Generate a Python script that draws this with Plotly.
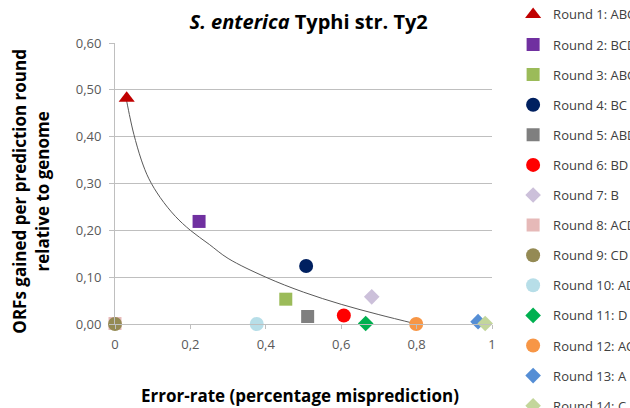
import plotly.graph_objects as go

# Data
round_names = ["Round 1: ABCD", "Round 2: BCD", "Round 3: ABC", "Round 4: BC", "Round 5: ABD",
               "Round 6: BD", "Round 7: B", "Round 8: ACD", "Round 9: CD", "Round 10: AD",
               "Round 11: D", "Round 12: AC", "Round 13: A", "Round 14: C"]
error_rate = [0.031, 0.223, 0.453, 0.507, 0.511, 0.607, 0.681, 0.0, 0.0, 0.376, 0.665, 0.799, 0.963, 0.982]
orfs_gained = [0.482, 0.219, 0.053, 0.124, 0.016, 0.018, 0.058, 0.001, 0.0, 0.0, 0.001, 0.0, 0.005, 0.001]
symbols = ["triangle-up", "square", "square", "circle", "square", "circle", "diamond",
           "square", "circle", "circle", "diamond", "circle", "diamond", "diamond"]
colors = ["#C00000", "#7030A0", "#9BBB59", "#002060", "#7F7F7F", "#FF0000", "#CCC0DA",
          "#E6B9B8", "#948A54", "#B7DEE8", "#00B050", "#F79646", "#558ED5", "#C3D69B"]
sizes = [14, 13, 13, 14, 13, 14, 12, 13, 14, 14, 12, 14, 12, 12]

# trend curve points
trend_x = [0.03, 0.04, 0.05, 0.07, 0.09, 0.12, 0.16, 0.2, 0.25, 0.3, 0.4, 0.5, 0.6, 0.7, 0.8]
trend_y = [0.48, 0.44, 0.405, 0.35, 0.31, 0.27, 0.23, 0.20, 0.17, 0.14, 0.10, 0.068, 0.042, 0.02, 0.0]

x_ticks = [0, 0.2, 0.4, 0.6, 0.8, 1]
y_ticks = [0, 0.1, 0.2, 0.3, 0.4, 0.5, 0.6]

title_text = "<b><i>S. enterica</i> Typhi str. Ty2</b>"
x_title = "<b>Error-rate (percentage misprediction)</b>"
y_title = "<b>ORFs gained per prediction round<br>relative to genome</b>"

fig = go.Figure()
fig.add_trace(go.Scatter(x=trend_x, y=trend_y, mode="lines", line=dict(color="#595959", width=1, shape="spline"),
                         showlegend=False, hoverinfo="skip"))
for i, name in enumerate(round_names):
    fig.add_trace(go.Scatter(x=[error_rate[i]], y=[orfs_gained[i]], mode="markers", name=name,
                             legendgroup=name,
                             marker=dict(symbol=symbols[i], color=colors[i], size=sizes[i],
                                         line=dict(width=0)),
                             cliponaxis=False))

font_family = "Open Sans, Lato, Liberation Sans, sans-serif"
fig.update_layout(
    width=630, height=408,
    margin=dict(l=115, r=138, t=43, b=84, autoexpand=False),
    paper_bgcolor="white", plot_bgcolor="white",
    separators=", ",
    font=dict(family=font_family, color="#595959"),
    title=dict(text=title_text, x=0.49, xanchor="center", xref="container",
               y=0.945, yanchor="middle", font=dict(size=20, color="black", family=font_family)),
    xaxis=dict(range=[0, 1], tickvals=x_ticks, tickformat="", showgrid=False, zeroline=False,
               showline=True, linecolor="#BFBFBF", ticks="outside", ticklen=4, tickcolor="#BFBFBF",
               ticklabelstandoff=4, tickfont=dict(size=13, color="#595959")),
    yaxis=dict(range=[0, 0.6], tickvals=y_ticks, tickformat=".2f", showgrid=True, gridcolor="#BFBFBF",
               gridwidth=1, zeroline=False, showline=True, linecolor="#BFBFBF",
               ticks="outside", ticklen=5, tickcolor="#BFBFBF", ticklabelstandoff=5,
               tickfont=dict(size=13, color="#595959")),
    annotations=[
        dict(text=x_title, xref="paper", yref="paper", x=0.491, y=-0.256, xanchor="center",
             yanchor="middle", showarrow=False, font=dict(size=17, color="black")),
        dict(text=y_title, xref="paper", yref="paper", x=-0.224, y=0.473, xanchor="center",
             yanchor="middle", textangle=-90, showarrow=False, font=dict(size=17, color="black")),
    ],
    legend=dict(x=1.056, xanchor="left", y=1.155, yanchor="top", tracegroupgap=10.2, maxheight=600,
                font=dict(size=13, color="#404040"), itemwidth=30, bgcolor="rgba(0,0,0,0)"),
    showlegend=True,
)
fig.write_html("out.html", post_script="document.body.style.margin='0';",
               config={"displayModeBar": False})
